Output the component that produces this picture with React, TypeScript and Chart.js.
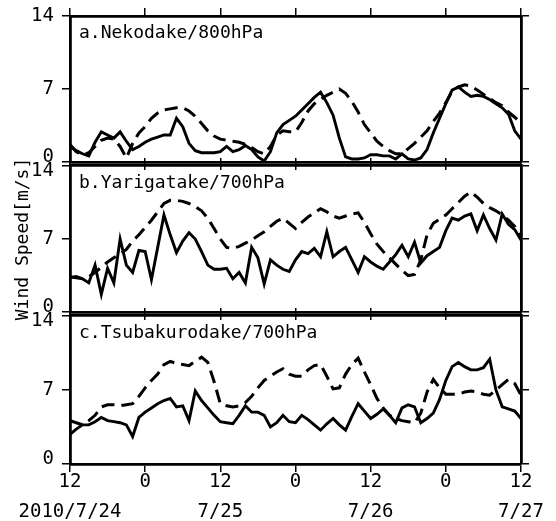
import React, { useEffect, useRef } from 'react';
import { Chart, registerables } from 'chart.js';

Chart.register(...registerables);

// hours since 2010/7/24 12:00
const hours = [
  0, 1, 2, 3, 4, 5, 6, 7, 8, 9, 10, 11, 12, 13, 14, 15, 16, 17, 18, 19, 20, 21, 22, 23, 24,
  25, 26, 27, 28, 29, 30, 31, 32, 33, 34, 35, 36, 37, 38, 39, 40, 41, 42, 43, 44, 45, 46, 47, 48,
  49, 50, 51, 52, 53, 54, 55, 56, 57, 58, 59, 60, 61, 62, 63, 64, 65, 66, 67, 68, 69, 70, 71, 72,
];

const xTickValues = [0, 12, 24, 36, 48, 60, 72];
const xHourLabels = ['12', '0', '12', '0', '12', '0', '12'];
const xDateLabels = ['2010/7/24', '', '7/25', '', '7/26', '', '7/27'];
const yTickValues = [0, 7, 14];

const panelNames = ['a.Nekodake/800hPa', 'b.Yarigatake/700hPa', 'c.Tsubakurodake/700hPa'];
const yTitle = 'Wind Speed[m/s]';

// a. Nekodake 800hPa
const solidA = [
  1.5, 1.1, 0.8, 0.6, 1.9, 2.9, 2.6, 2.3, 2.9, 2.0, 1.2, 1.5, 1.9, 2.2, 2.4, 2.6, 2.6, 4.2, 3.4, 1.8,
  1.1, 0.9, 0.9, 0.9, 1.0, 1.5, 1.0, 1.2, 1.6, 1.2, 0.5, 0.1, 1.0, 2.8, 3.6, 4.0, 4.4, 5.0, 5.6, 6.2,
  6.7, 5.7, 4.5, 2.3, 0.5, 0.3, 0.3, 0.4, 0.7, 0.7, 0.6, 0.6, 0.3, 0.8, 0.3, 0.2, 0.4, 1.2, 2.8, 4.2,
  5.6, 6.9, 7.2, 6.7, 6.3, 6.4, 6.3, 6.0, 5.6, 5.2, 4.6, 3.0, 2.2,
];
const dashedA = [
  1.7, 1.0, 0.7, 0.9, 1.5, 2.1, 2.3, 2.2, 1.5, 0.4, 1.8, 2.8, 3.4, 4.2, 4.7, 5.0, 5.1, 5.2, 5.2, 4.9,
  4.4, 3.7, 3.0, 2.5, 2.2, 2.1, 2.0, 1.9, 1.7, 1.4, 1.0, 0.8, 1.5, 2.6, 3.0, 2.9, 2.9, 3.8, 4.9, 5.6,
  6.0, 6.4, 6.7, 7.0, 6.6, 5.8, 4.8, 3.6, 2.8, 2.0, 1.5, 1.1, 0.8, 0.8, 1.3, 1.8, 2.4, 3.0, 3.9, 4.7,
  5.7, 6.8, 7.2, 7.4, 7.3, 6.9, 6.5, 6.1, 5.7, 5.4, 4.8, 4.3, 3.8,
];

// b. Yarigatake 700hPa
const solidB = [
  3.3, 3.4, 3.2, 2.8, 4.5, 1.7, 4.2, 2.8, 7.0, 4.5, 3.8, 5.9, 5.8, 3.1, 6.2, 9.3, 7.4, 5.7, 6.8, 7.6,
  7.0, 5.8, 4.5, 4.1, 4.1, 4.2, 3.2, 3.8, 2.8, 6.2, 5.2, 2.7, 5.0, 4.5, 4.1, 3.9, 5.0, 5.8, 5.6, 6.1,
  5.3, 7.7, 5.3, 5.8, 6.2, 5.0, 3.8, 5.3, 4.8, 4.4, 4.1, 4.8, 5.5, 6.4, 5.3, 6.7, 4.7, 5.4, 5.8, 6.2,
  7.8, 9.0, 8.8, 9.2, 9.4, 7.8, 9.3, 8.0, 6.9, 9.4, 8.4, 7.9, 6.9,
];
const dashedB = [
  3.4, 3.3, 3.2, 3.4, 3.8, 4.3, 4.8, 5.2, 5.6, 6.0, 6.8, 7.4, 8.1, 8.8, 9.6, 10.4, 10.7, 10.7, 10.6, 10.4,
  10.1, 9.7, 9.0, 8.0, 7.0, 6.2, 6.1, 6.3, 6.6, 6.9, 7.3, 7.7, 8.2, 8.7, 9.0, 8.5, 8.0, 8.6, 9.1, 9.5,
  9.9, 9.6, 9.2, 9.0, 9.2, 9.4, 9.5, 8.6, 7.5, 6.5, 5.8, 5.2, 4.6, 4.0, 3.5, 3.6, 5.0, 7.4, 8.5, 8.9,
  9.3, 9.9, 10.5, 11.1, 11.5, 11.0, 10.4, 10.0, 9.7, 9.3, 8.8, 8.2, 7.1,
];

// c. Tsubakurodake 700hPa
const solidC = [
  2.8, 3.3, 3.7, 3.7, 4.0, 4.4, 4.1, 4.0, 3.9, 3.7, 2.6, 4.4, 4.9, 5.3, 5.7, 6.0, 6.2, 5.4, 5.5, 4.1,
  6.9, 6.0, 5.3, 4.6, 4.0, 3.9, 3.8, 4.6, 5.5, 4.9, 4.9, 4.6, 3.5, 3.9, 4.6, 4.0, 3.9, 4.6, 4.2, 3.7,
  3.2, 3.8, 4.3, 3.7, 3.2, 4.5, 5.7, 5.0, 4.3, 4.7, 5.2, 4.6, 3.9, 5.3, 5.6, 5.4, 3.9, 4.3, 4.8, 6.1,
  7.9, 9.2, 9.6, 9.2, 8.9, 8.9, 9.1, 9.9, 7.0, 5.4, 5.2, 5.0, 4.3,
];
const dashedC = [
  4.1, 3.9, 3.7, 4.1, 4.6, 5.4, 5.6, 5.6, 5.5, 5.6, 5.7, 6.4, 7.2, 7.9, 8.5, 9.4, 9.7, 9.5, 9.4, 9.3,
  9.7, 10.1, 9.6, 7.8, 5.7, 5.5, 5.4, 5.5, 5.8, 6.4, 7.2, 7.9, 8.3, 8.7, 9.0, 8.5, 8.3, 8.3, 8.9, 9.3,
  9.4, 8.3, 7.1, 7.2, 8.5, 9.4, 10.0, 8.7, 7.5, 6.2, 5.3, 4.6, 4.3, 4.1, 4.0, 3.9, 4.8, 6.8, 8.0, 7.2,
  6.6, 6.6, 6.6, 6.8, 6.9, 6.8, 6.6, 6.5, 7.0, 7.5, 8.0, 7.6, 6.5,
];

const solidSeries = [solidA, solidB, solidC];
const dashedSeries = [dashedA, dashedB, dashedC];

const FONT = '"DejaVu Sans Mono", monospace';
const W = 556;
const AREA_LEFT = 70;
const AREA_RIGHT = 521;

// canvas top, canvas height, top axis height, bottom axis height
const layouts = [
  { top: 0, height: 180, topH: 16, bottomH: 16 },
  { top: 148, height: 182, topH: 16, bottomH: 16 },
  { top: 298, height: 223, topH: 16, bottomH: 57 },
];

const panelLabelPlugin = {
  id: 'panelLabel',
  afterDatasetsDraw(chart: any, _args: any, opts: any) {
    const { ctx, chartArea } = chart;
    ctx.save();
    ctx.font = '18px ' + FONT;
    ctx.fillStyle = '#000';
    ctx.textAlign = 'left';
    ctx.textBaseline = 'middle';
    ctx.fillText(opts.text, chartArea.left + 9, chartArea.top + 17);
    ctx.restore();
  },
};

function makeConfig(idx: number): any {
  const lay = layouts[idx];
  const isBottom = idx === 2;
  const grid = {
    drawOnChartArea: false,
    drawTicks: true,
    tickLength: 8,
    color: '#000',
    lineWidth: 1.5,
  };
  const border = { display: true, color: '#000', width: 2.8 };
  const toPts = (arr: number[]) => arr.map((v, i) => ({ x: hours[i], y: v }));
  const yLabel = (v: number) => {
    if (v === 0) return ['0', ''];
    if (v === 14) return idx === 0 ? '14' : ['', '14'];
    return String(v);
  };
  return {
    type: 'line',
    data: {
      datasets: [
        {
          data: toPts(dashedSeries[idx]),
          borderColor: '#000',
          borderWidth: 3,
          borderDash: [13, 7],
          pointRadius: 0,
          tension: 0,
          fill: false,
          xAxisID: 'x',
          yAxisID: 'y',
        },
        {
          data: toPts(solidSeries[idx]),
          borderColor: '#000',
          borderWidth: 2.9,
          pointRadius: 0,
          tension: 0,
          fill: false,
          xAxisID: 'x',
          yAxisID: 'y',
        },
      ],
    },
    options: {
      responsive: false,
      animation: false,
      events: [],
      layout: { autoPadding: false, padding: { left: 0, right: 0, top: 0, bottom: 0 } },
      plugins: {
        legend: { display: false },
        tooltip: { enabled: false },
        panelLabel: { text: panelNames[idx] },
      },
      scales: {
        x: {
          type: 'linear',
          position: 'bottom',
          min: 0,
          max: 72,
          afterBuildTicks: (s: any) => {
            s.ticks = xTickValues.map((v) => ({ value: v }));
          },
          ticks: {
            display: isBottom,
            autoSkip: false,
            maxRotation: 0,
            minRotation: 0,
            padding: -5,
            color: '#000',
            font: { family: FONT, size: 19, lineHeight: 1.58 },
            callback: (v: number) => {
              const i = xTickValues.indexOf(v);
              return i < 0 ? '' : [xHourLabels[i], xDateLabels[i]];
            },
          },
          grid,
          border,
          afterFit: (s: any) => {
            s.height = lay.bottomH;
          },
        },
        xTop: {
          type: 'linear',
          position: 'top',
          min: 0,
          max: 72,
          afterBuildTicks: (s: any) => {
            s.ticks = xTickValues.map((v) => ({ value: v }));
          },
          ticks: { display: false },
          grid,
          border,
          afterFit: (s: any) => {
            s.height = lay.topH;
          },
        },
        y: {
          type: 'linear',
          position: 'left',
          min: 0,
          max: 14,
          afterBuildTicks: (s: any) => {
            s.ticks = yTickValues.map((v) => ({ value: v }));
          },
          ticks: {
            padding: 8,
            color: '#000',
            font: { family: FONT, size: 19, lineHeight: 0.52 },
            callback: (v: number) => yLabel(v),
          },
          title: {
            display: idx === 1,
            text: yTitle,
            color: '#000',
            font: { family: FONT, size: 18 },
            padding: { top: 13, bottom: 0 },
          },
          grid,
          border,
          afterFit: (s: any) => {
            s.width = AREA_LEFT;
          },
        },
        yRight: {
          type: 'linear',
          position: 'right',
          min: 0,
          max: 14,
          afterBuildTicks: (s: any) => {
            s.ticks = yTickValues.map((v) => ({ value: v }));
          },
          ticks: { display: false },
          grid,
          border,
          afterFit: (s: any) => {
            s.width = W - AREA_RIGHT;
          },
        },
      },
    },
    plugins: [panelLabelPlugin],
  };
}

export default function App() {
  const refA = useRef<HTMLCanvasElement>(null);
  const refB = useRef<HTMLCanvasElement>(null);
  const refC = useRef<HTMLCanvasElement>(null);

  useEffect(() => {
    Chart.defaults.font.family = FONT;
    Chart.defaults.color = '#000';
    const refs = [refA, refB, refC];
    const charts = refs.map((r, i) => new Chart(r.current as HTMLCanvasElement, makeConfig(i)));
    return () => {
      charts.forEach((c) => c.destroy());
    };
  }, []);

  const refs = [refA, refB, refC];
  return (
    <div
      style={{
        position: 'absolute',
        left: 0,
        top: 0,
        width: W,
        height: 521,
        background: '#fff',
        overflow: 'hidden',
      }}
    >
      {layouts.map((lay, i) => (
        <canvas
          key={i}
          ref={refs[i]}
          width={W}
          height={lay.height}
          style={{ position: 'absolute', left: 0, top: lay.top, width: W, height: lay.height }}
        />
      ))}
    </div>
  );
}
